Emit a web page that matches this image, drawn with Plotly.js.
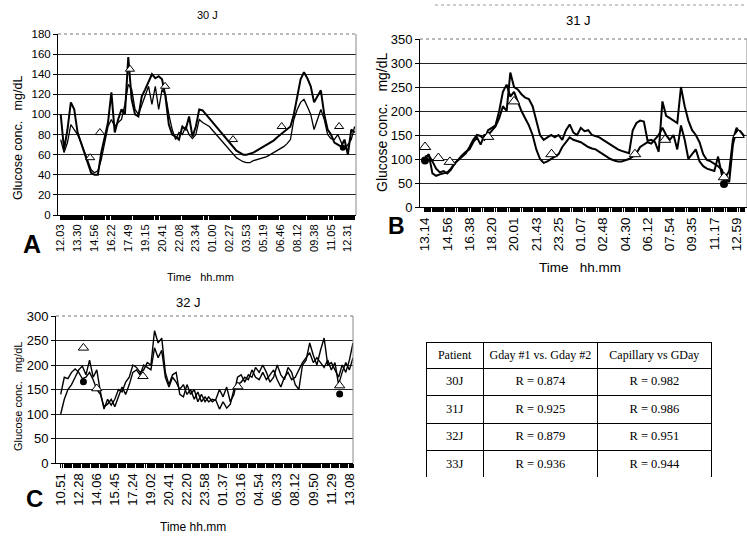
<!DOCTYPE html>
<html><head><meta charset="utf-8">
<script src="https://cdn.plot.ly/plotly-3.0.1.min.js"></script>
<style>html,body{margin:0;padding:0;background:#fff}#c{width:747px;height:536px}</style>
</head><body><div id="c"></div>
<script>
// ---- Panel A (30 J) ----
const ticksA = ["12.03","13.30","14.56","16.22","17.49","19.15","20.41","22.08","23.34","01.00","02.27","03.53","05.19","06.46","08.12","09.38","11.05","12.31"];
const tickPosA = [0,5,10,15,20,25,30,35,40,45,50,55,60,65,70,75,80,85];
const gday1A = [100,65,85,112,105,82,72,62,50,42,40,40,62,78,92,122,82,95,105,100,157,115,100,98,118,125,132,140,136,138,135,118,90,80,78,75,88,85,98,78,88,105,104,100,96,92,88,85,80,76,72,68,64,62,60,60,61,62,64,66,68,70,72,74,77,80,83,86,88,100,118,135,142,136,128,112,118,124,100,85,80,72,70,68,75,60,85,82];
const gday2A = [75,62,72,90,85,80,72,63,52,45,42,44,55,72,88,95,88,92,95,110,130,125,105,100,110,120,128,110,128,105,125,120,100,85,75,82,80,88,80,76,80,95,92,90,88,84,80,76,72,68,64,60,57,55,53,52,52,54,55,56,57,58,60,62,64,66,68,71,75,95,105,112,115,108,100,85,95,105,95,80,76,75,80,72,65,70,75,88];
const capAx = [8.7,11.6,20.5,30.9,51,65.4,82.4];
const capAy = [57,82,145,128,75,88,88];
const dotAx = [83.5];
const dotAy = [67];

// ---- Panel B (31 J) ----
const ticksB = ["13.14","14.56","16.38","18.20","20.01","21.43","23.25","01.07","02.48","04.30","06.12","07.54","09.35","11.17","12.59"];
const tickPosB = [0,6,12,18,24,30,36,42,48,54,60,66,72,78,84];
const gday1B = [100,110,70,65,68,70,72,80,92,98,105,112,125,140,150,148,140,160,165,170,200,240,255,230,240,220,200,185,170,150,120,100,92,95,100,105,110,125,135,145,140,138,135,130,125,122,120,115,110,105,100,97,95,95,97,100,105,112,125,130,135,132,140,150,165,150,140,150,120,170,140,100,110,120,95,85,80,78,75,105,68,62,75,140,165,150,145];
const gday2B = [105,108,95,80,72,75,70,78,90,100,108,115,120,135,145,130,150,150,158,168,185,210,200,280,250,245,235,228,225,210,180,150,140,145,150,145,150,140,160,172,155,150,165,158,160,150,148,145,140,135,130,125,120,117,115,112,160,175,180,178,138,140,135,115,220,190,185,180,175,250,210,180,160,150,135,110,98,95,90,85,78,58,52,130,160,158,148];
const capBx = [0,3.6,6.7,17,24,34.1,56.6,64.7,80.6,84.5];
const capBy = [125,102,94,146,220,110,110,140,62,150];
const dotBx = [0,80.6];
const dotBy = [97,48];

// ---- Panel C (32 J) ----
const ticksC = ["10.51","12.28","14.06","15.45","17.24","19.02","20.41","22.20","23.58","01.37","03.16","04.54","06.33","08.12","09.50","11.29","13.08"];
const tickPosC = [0,5,10,15,20,25,30,35,40,45,50,55,60,65,70,75,80];
const gday1C = [100,130,150,160,175,190,198,180,210,175,190,145,110,130,118,130,150,145,165,175,200,195,185,190,205,200,270,245,255,185,160,180,185,140,135,160,140,150,125,140,125,135,125,130,150,135,155,125,140,175,180,165,180,175,195,185,200,185,165,175,200,180,170,195,185,160,150,200,210,245,220,200,230,255,200,205,190,175,200,185,210,245];
const gday2C = [140,175,172,185,192,185,172,175,185,170,150,140,115,120,130,115,135,155,140,160,185,190,180,200,195,190,235,215,230,175,155,175,165,150,160,140,150,130,145,125,135,125,130,128,110,125,112,120,150,160,165,175,170,190,175,170,185,170,180,190,170,155,175,185,170,175,190,205,215,225,205,215,205,195,210,190,205,160,185,205,190,215];
const capCx = [6.3,10,22.8,49.1,77.3];
const capCy = [235,152,177,156,158];
const dotCx = [6.3,77.3];
const dotCy = [166,141];

// ---- Table ----
const tblHeader = ["Patient","Gday #1 vs. Gday #2","Capillary vs GDay"];
const tblPatients = ["30J","31J","32J","33J"];
const tblG1G2 = ["R = 0.874","R = 0.925","R = 0.879","R = 0.936"];
const tblCapG = ["R = 0.982","R = 0.986","R = 0.951","R = 0.944"];

const W = 747, H = 536;
const px = v => v / W, py = v => 1 - v / H;
const FONT = "Arial, 'Liberation Sans', sans-serif";
const SERIF = "'Liberation Serif', 'Times New Roman', serif";
const nb = s => s.replace(/ /g, '\u00a0');

function lineTrace(y, xa, ya, w) {
  return {type:'scatter', mode:'lines', y:y, xaxis:xa, yaxis:ya,
    line:{color:'#000', width:w}, hoverinfo:'skip'};
}
function triTrace(x, y, xa, ya, s) {
  return {type:'scatter', mode:'markers', x:x, y:y, xaxis:xa, yaxis:ya,
    marker:{symbol:'triangle-up', size:s, color:'#fff', line:{color:'#000', width:1}}, hoverinfo:'skip'};
}
function dotTrace(x, y, xa, ya, s) {
  return {type:'scatter', mode:'markers', x:x, y:y, xaxis:xa, yaxis:ya,
    marker:{symbol:'circle', size:s, color:'#000'}, hoverinfo:'skip'};
}

const data = [
  lineTrace(gday2A,'x','y',1.3), lineTrace(gday1A,'x','y',2),
  dotTrace(dotAx,dotAy,'x','y',6), triTrace(capAx,capAy,'x','y',8),
  lineTrace(gday2B,'x2','y2',2), lineTrace(gday1B,'x2','y2',2),
  triTrace(capBx,capBy,'x2','y2',10), dotTrace(dotBx,dotBy,'x2','y2',8),
  lineTrace(gday2C,'x3','y3',1.4), lineTrace(gday1C,'x3','y3',1.4),
  triTrace(capCx,capCy,'x3','y3',9), dotTrace(dotCx,dotCy,'x3','y3',7),
  {type:'table', domain:{x:[px(426),px(711)], y:[py(478),py(342)]},
   columnwidth:[57,114,113],
   header:{values:tblHeader.map(nb), align:'center', height:26,
     line:{color:'#000', width:1}, fill:{color:'#fff'},
     font:{family:SERIF, size:12, color:'#000'}},
   cells:{values:[tblPatients,tblG1G2,tblCapG].map(c => c.map(nb)), align:'center', height:27.5,
     line:{color:'#000', width:1}, fill:{color:'#fff'},
     font:{family:SERIF, size:12.5, color:'#000'}}}
];

// dense tick band: a tick at every half sample, label only at the labelled samples
function denseTicks(n, pos, labels) {
  const tv = [], tt = [];
  for (let k = 0; k <= 2 * n; k++) {
    const v = k / 2;
    tv.push(v);
    const j = pos.indexOf(v);
    tt.push(j >= 0 ? labels[j] : '');
  }
  return {tv, tt};
}

function xax(dom, rng, n, pos, labels, anchor, fs) {
  const d = denseTicks(n, pos, labels);
  return {domain:dom, range:rng, anchor:anchor, tickmode:'array', tickvals:d.tv, ticktext:d.tt,
    tickangle:-90, ticks:'outside', ticklen:4, tickcolor:'#000', tickwidth:1.6,
    tickfont:{family:FONT, size:fs, color:'#000'},
    showgrid:false, zeroline:false, showline:true, linecolor:'#000', linewidth:1, fixedrange:true};
}
function yax(dom, rng, dt, anchor, fs) {
  return {domain:dom, range:rng, dtick:dt, anchor:anchor, ticks:'outside', ticklen:4,
    tickcolor:'#000', tickfont:{family:FONT, size:fs, color:'#000'},
    showgrid:true, gridcolor:'#222', gridwidth:1, zeroline:false,
    showline:true, linecolor:'#000', linewidth:1, fixedrange:true};
}

function ann(text, x, y, size, opts) {
  return Object.assign({text:text, x:px(x), y:py(y), xref:'paper', yref:'paper',
    showarrow:false, xanchor:'center', yanchor:'middle',
    font:{family:FONT, size:size, color:'#000'}}, opts || {});
}
const ytitle = "Glucose conc.\u00a0\u00a0 mg/dL";

function frame(xr, yr) {
  return [
    {type:'line', xref:xr+' domain', yref:yr+' domain', x0:0, x1:1, y0:1, y1:1,
     line:{color:'#777', width:1, dash:'dot'}},
    {type:'line', xref:xr+' domain', yref:yr+' domain', x0:1, x1:1, y0:0, y1:1,
     line:{color:'#888', width:1}}
  ];
}

const layout = {
  width:W, height:H, margin:{l:0,r:0,t:0,b:0}, showlegend:false,
  paper_bgcolor:'#fff', plot_bgcolor:'#fff', font:{family:FONT, color:'#000'},
  xaxis: xax([px(58),px(356)], [-0.8,87.4], 87, tickPosA, ticksA, 'y', 11),
  yaxis: yax([py(215),py(34)], [0,180], 20, 'x', 11.5),
  xaxis2: xax([px(420),1], [-1.35,86.8], 86, tickPosB, ticksB, 'y2', 13.5),
  yaxis2: yax([py(207),py(39)], [0,350], 50, 'x2', 13),
  xaxis3: xax([px(56),px(353)], [-1.3,81], 81, tickPosC, ticksC, 'y3', 13),
  yaxis3: yax([py(463),py(316)], [0,300], 50, 'x3', 13),
  shapes: [].concat(frame('x','y'), frame('x2','y2'), frame('x3','y3'),
    [{type:'line', xref:'paper', yref:'paper', x0:px(435), x1:1, y0:py(5), y1:py(5),
      line:{color:'#999', width:1, dash:'dot'}}]),
  annotations: [
    ann("30 J", 207, 15, 11),
    ann("31 J", 578, 20, 13),
    ann("32 J", 188, 302, 13),
    ann(ytitle, 18, 138, 12.5, {textangle:-90}),
    ann(ytitle, 382, 122, 14, {textangle:-90}),
    ann(ytitle, 18, 397, 11, {textangle:-90}),
    ann("Time\u00a0\u00a0 hh.mm", 200, 277, 11),
    ann("Time\u00a0\u00a0 hh.mm", 580, 267, 13.5),
    ann("Time\u00a0hh.mm", 193, 527, 12),
    ann("<b>A</b>", 32, 244, 25),
    ann("<b>B</b>", 397, 226, 23),
    ann("<b>C</b>", 34, 498, 24)
  ]
};

Plotly.newPlot('c', data, layout, {staticPlot:true, displayModeBar:false});
</script></body></html>
